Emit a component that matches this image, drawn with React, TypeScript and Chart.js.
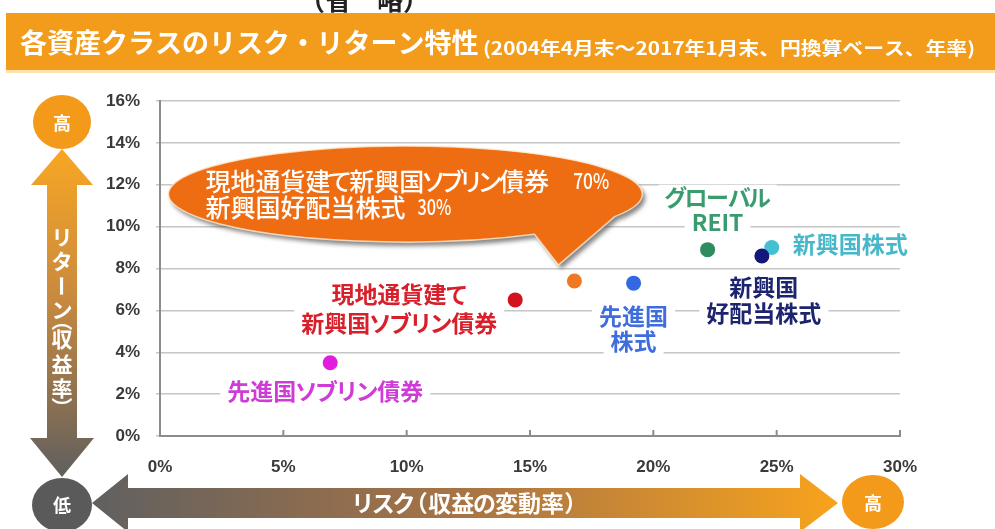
import React, { useEffect, useRef } from "react";
import { Chart, registerables } from "chart.js";

Chart.register(...registerables);

// ---- data ----
const assetNames = [
  "先進国ソブリン債券",
  "現地通貨建て新興国ソブリン債券",
  "現地通貨建て新興国ソブリン債券70%・新興国好配当株式30%",
  "先進国株式",
  "グローバルREIT",
  "新興国株式",
  "新興国好配当株式",
];
const riskValues = [6.9, 14.4, 16.8, 19.2, 22.2, 24.8, 24.4];
const returnValues = [3.5, 6.5, 7.4, 7.3, 8.9, 9.0, 8.6];
const pointColors = ["#E21DE0", "#D4121E", "#F07822", "#3468E2", "#2F8C5E", "#45C0D2", "#13197A"];
const mixParts = ["現地通貨建て新興国ソブリン債券", "新興国好配当株式"];
const mixWeights = [70, 30];
const xTickValues = [0, 5, 10, 15, 20, 25, 30];
const yTickValues = [0, 2, 4, 6, 8, 10, 12, 14, 16];
const titleText = "各資産クラスのリスク・リターン特性";
const subtitleText = "(2004年4月末～2017年1月末、円換算ベース、年率)";
const headText = "（省　略）";
const yAxisText = "リターン（収益率）";
const xAxisText = "リスク（収益の変動率）";

// ---- label presentation ----
const labelSpecs = [
  { idx: 0, lines: ["先進国ソブリン債券"], color: "#CF3BD6", align: "center", dx: -5, dy: [29] },
  { idx: 1, lines: ["現地通貨建て", "新興国ソブリン債券"], color: "#D7202B", align: "center", dx: -116, dy: [-6, 23] },
  { idx: 3, lines: ["先進国", "株式"], color: "#3F6EDC", align: "center", dx: 0, dy: [33, 58] },
  { idx: 4, lines: ["グローバル", "REIT"], color: "#3A9B6E", align: "center", dx: 10, dy: [-52, -27] },
  { idx: 5, lines: ["新興国株式"], color: "#46B8CA", align: "left", dx: 21, dy: [-3] },
  { idx: 6, lines: ["新興国", "好配当株式"], color: "#1D246E", align: "center", dx: 2, dy: [31, 57] },
];

const JP = '"Noto Sans CJK JP", "Noto Sans", sans-serif';
const NUM = '"Liberation Sans", Arial, sans-serif';

function isKana(c: string) {
  return /[\u3040-\u30FF]/.test(c) && c !== "ー";
}
function isParen(c: string) {
  return c === "（" || c === "）";
}

function drawJP(
  ctx: CanvasRenderingContext2D,
  text: string,
  x: number,
  y: number,
  size: number,
  align: string,
  kana = 0.88,
  paren = 0.6,
  measureOnly = false,
  weight = "bold"
) {
  ctx.font = `${weight} ${size}px ${JP}`;
  const chars = Array.from(text);
  const widths = chars.map((c) => ctx.measureText(c).width);
  const advs = chars.map((c, i) => (isKana(c) ? widths[i] * kana : isParen(c) ? widths[i] * paren : widths[i]));
  const total = advs.reduce((a, b) => a + b, 0);
  if (measureOnly) return total;
  let cx = align === "center" ? x - total / 2 : x;
  ctx.textAlign = "left";
  ctx.textBaseline = "middle";
  chars.forEach((c, i) => {
    let dx = (advs[i] - widths[i]) / 2;
    if (c === "（") dx = advs[i] / 2 - widths[i] * 0.72;
    if (c === "）") dx = advs[i] / 2 - widths[i] * 0.28;
    ctx.fillText(c, cx + dx, y);
    cx += advs[i];
  });
  return total;
}

function fitText(ctx: CanvasRenderingContext2D, text: string, x: number, y: number, width: number, font: string) {
  ctx.font = font;
  const w = ctx.measureText(text).width;
  ctx.save();
  ctx.translate(x, y);
  ctx.scale(width / w, 1);
  ctx.textAlign = "left";
  ctx.textBaseline = "middle";
  ctx.fillText(text, 0, 0);
  ctx.restore();
}

function ellipse(ctx: CanvasRenderingContext2D, x: number, y: number, rx: number, ry: number, fill: string) {
  ctx.beginPath();
  ctx.ellipse(x, y, rx, ry, 0, 0, Math.PI * 2);
  ctx.fillStyle = fill;
  ctx.fill();
}

const decorPlugin = {
  id: "decor",
  beforeDraw(chart: any) {
    const ctx: CanvasRenderingContext2D = chart.ctx;
    ctx.save();
    ctx.fillStyle = "#ffffff";
    ctx.fillRect(0, 0, chart.width, chart.height);

    // cut-off heading
    ctx.fillStyle = "#222";
    ctx.font = `bold 26px ${JP}`;
    ctx.textAlign = "center";
    ctx.textBaseline = "bottom";
    ctx.fillText(headText, 364, 13);

    // title band
    ctx.fillStyle = "#F39B1A";
    ctx.fillRect(6, 13, 989, 57);
    ctx.fillStyle = "#FCE3B0";
    ctx.fillRect(6, 70, 989, 3);
    ctx.fillStyle = "#ffffff";
    ctx.font = `bold 27px ${JP}`;
    ctx.textAlign = "left";
    ctx.textBaseline = "middle";
    ctx.fillText(titleText, 20, 43, 460);
    fitText(ctx, subtitleText, 483, 48, 492, `bold 18px ${JP}`);

    // vertical arrow
    const vg = ctx.createLinearGradient(0, 150, 0, 477);
    vg.addColorStop(0, "#F8A623");
    vg.addColorStop(0.45, "#C98A3F");
    vg.addColorStop(1, "#5F5F5F");
    ctx.beginPath();
    ctx.moveTo(62, 149);
    ctx.lineTo(93, 185);
    ctx.lineTo(77, 185);
    ctx.lineTo(77, 438);
    ctx.lineTo(94, 438);
    ctx.lineTo(62, 477);
    ctx.lineTo(30, 438);
    ctx.lineTo(47, 438);
    ctx.lineTo(47, 185);
    ctx.lineTo(31, 185);
    ctx.closePath();
    ctx.fillStyle = vg;
    ctx.fill();

    // horizontal arrow
    const hg = ctx.createLinearGradient(92, 0, 838, 0);
    hg.addColorStop(0, "#606060");
    hg.addColorStop(0.5, "#A87445");
    hg.addColorStop(1, "#F8A31C");
    ctx.beginPath();
    ctx.moveTo(92, 503);
    ctx.lineTo(128, 474);
    ctx.lineTo(128, 488);
    ctx.lineTo(800, 488);
    ctx.lineTo(800, 474);
    ctx.lineTo(838, 503);
    ctx.lineTo(800, 532);
    ctx.lineTo(800, 518);
    ctx.lineTo(128, 518);
    ctx.lineTo(128, 532);
    ctx.closePath();
    ctx.fillStyle = hg;
    ctx.fill();

    // circles
    ellipse(ctx, 62, 122, 29, 27, "#F39A1A");
    ellipse(ctx, 62, 505, 30, 27, "#5A5A5A");
    ellipse(ctx, 873, 502, 31, 27, "#F39A1A");
    ctx.fillStyle = "#ffffff";
    ctx.font = `bold 18px ${JP}`;
    ctx.textAlign = "center";
    ctx.textBaseline = "middle";
    ctx.fillText("高", 62, 123);
    ctx.fillText("低", 62, 505);
    ctx.fillText("高", 873, 503);

    // vertical axis text
    const vsize = 21;
    ctx.font = `bold ${vsize}px ${JP}`;
    const vchars = Array.from(yAxisText);
    let vy = 237;
    vchars.forEach((c, i) => {
      ctx.save();
      let oy = 0;
      if (c === "（") oy = -0.22 * vsize;
      if (c === "）") oy = 0.22 * vsize;
      ctx.translate(62, vy + oy);
      if (c === "ー" || isParen(c)) ctx.rotate(Math.PI / 2);
      ctx.fillText(c, 0, 0);
      ctx.restore();
      const n = vchars[i + 1];
      vy += isParen(c) || (n && isParen(n)) ? 14.5 : 24.5;
    });

    // horizontal axis text
    drawJP(ctx, xAxisText, 465, 503, 23, "center", 0.9, 0.6);
    ctx.restore();
  },
  beforeDatasetsDraw(chart: any) {
    const ctx: CanvasRenderingContext2D = chart.ctx;
    const xs = chart.scales.x;
    const ys = chart.scales.y;
    ctx.save();
    // point labels
    labelSpecs.forEach((s) => {
      const px = xs.getPixelForValue(riskValues[s.idx]);
      const py = ys.getPixelForValue(returnValues[s.idx]);
      s.lines.forEach((line, li) => {
        const w = drawJP(ctx, line, 0, 0, 23, s.align, 0.88, 0.6, true);
        const lx = px + s.dx;
        const ly = py + s.dy[li];
        const left = s.align === "center" ? lx - w / 2 : lx;
        ctx.fillStyle = "#ffffff";
        ctx.fillRect(left - 7, ly - 13, w + 14, 26);
        ctx.fillStyle = s.color;
        drawJP(ctx, line, lx, ly, 23, s.align, 0.88, 0.6);
      });
    });

    // speech bubble for the mix portfolio
    const ox = xs.getPixelForValue(riskValues[2]);
    const oy = ys.getPixelForValue(returnValues[2]);
    const cx = ox - 169;
    const cy = oy - 87;
    const rx = 237;
    const ry = 48;
    const a1 = (57 * Math.PI) / 180;
    const a2 = (388 * Math.PI) / 180;
    ctx.beginPath();
    ctx.ellipse(cx, cy, rx, ry, 0, a1, a2);
    ctx.lineTo(ox - 16, oy - 16);
    ctx.closePath();
    ctx.save();
    ctx.shadowColor = "rgba(70,70,70,0.65)";
    ctx.shadowOffsetX = 3;
    ctx.shadowOffsetY = 4;
    ctx.shadowBlur = 4;
    ctx.fillStyle = "#EF6D12";
    ctx.fill();
    ctx.restore();
    ctx.strokeStyle = "rgba(255,235,210,0.8)";
    ctx.lineWidth = 1.5;
    ctx.stroke();

    ctx.fillStyle = "#ffffff";
    const t1 = drawJP(ctx, mixParts[0], cx - 200, cy - 13, 25, "left", 0.75, 0.6, false, "500");
    const t2 = drawJP(ctx, mixParts[1], cx - 200, cy + 13, 25, "left", 0.75, 0.6, false, "500");
    ctx.font = `500 22px ${JP}`;
    ctx.textAlign = "left";
    ctx.textBaseline = "middle";
    ctx.fillText(mixWeights[0] + "%", cx - 200 + t1 + 24, cy - 13, 36);
    ctx.fillText(mixWeights[1] + "%", cx - 200 + t2 + 12, cy + 13, 34);
    ctx.restore();
  },
  afterDatasetsDraw(chart: any) {
    const ctx: CanvasRenderingContext2D = chart.ctx;
    const xs = chart.scales.x;
    const bottom = chart.chartArea.bottom;
    ctx.save();
    ctx.strokeStyle = "#8c8c8c";
    ctx.lineWidth = 2;
    xTickValues.slice(1).forEach((v) => {
      const px = xs.getPixelForValue(v);
      ctx.beginPath();
      ctx.moveTo(px, bottom);
      ctx.lineTo(px, bottom - 6);
      ctx.stroke();
    });
    ctx.restore();
  },
};

export default function App() {
  const ref = useRef<HTMLCanvasElement>(null);
  useEffect(() => {
    document.body.style.margin = "0";
    const canvas = ref.current!;
    const tickFont = { family: NUM, size: 17, weight: "bold" as const };
    const chart = new Chart(canvas, {
      type: "scatter",
      data: {
        datasets: [
          {
            label: "assets",
            data: riskValues.map((x, i) => ({ x, y: returnValues[i], name: assetNames[i] })),
            pointBackgroundColor: pointColors,
            pointBorderWidth: 0,
            pointRadius: 7.5,
            pointHoverRadius: 7.5,
          } as any,
        ],
      },
      options: {
        responsive: false,
        animation: false,
        events: [],
        layout: { padding: { top: 101, right: 95, bottom: 0, left: 0 } },
        plugins: { legend: { display: false }, tooltip: { enabled: false } },
        scales: {
          x: {
            type: "linear",
            min: 0,
            max: 30,
            afterFit: (s: any) => {
              s.height = 93;
            },
            afterBuildTicks: (s: any) => {
              s.ticks = xTickValues.map((v) => ({ value: v }));
            },
            ticks: {
              callback: (v: any) => v + "%",
              font: tickFont,
              color: "#3a3a3a",
              padding: 21,
              maxRotation: 0,
              autoSkip: false,
            },
            grid: { display: false, drawTicks: false },
            border: { display: true, color: "#8c8c8c", width: 2 },
          },
          y: {
            type: "linear",
            min: 0,
            max: 16,
            afterFit: (s: any) => {
              s.width = 160;
            },
            afterBuildTicks: (s: any) => {
              s.ticks = yTickValues.map((v) => ({ value: v }));
            },
            ticks: {
              callback: (v: any) => v + "%",
              font: tickFont,
              color: "#3a3a3a",
              padding: 16,
              autoSkip: false,
            },
            grid: { color: "#c6c6c6", lineWidth: 1.5, tickLength: 4, drawTicks: true },
            border: { display: true, color: "#8c8c8c", width: 2 },
          },
        },
      },
      plugins: [decorPlugin],
    });
    return () => chart.destroy();
  }, []);
  return (
    <div style={{ position: "absolute", left: 0, top: 0, width: 995, height: 529 }}>
      <canvas ref={ref} width={995} height={529} style={{ display: "block" }} />
    </div>
  );
}
